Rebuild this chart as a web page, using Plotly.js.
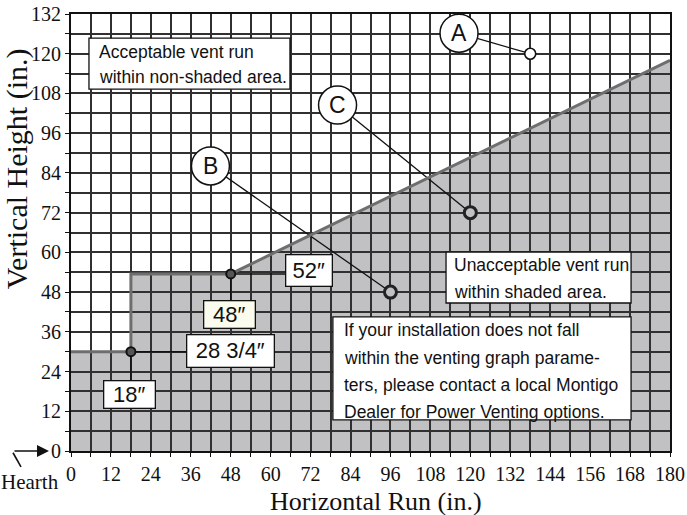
<!DOCTYPE html>
<html>
<head>
<meta charset="utf-8">
<script src="https://cdn.plot.ly/plotly-3.0.1.min.js"></script>
<style>html,body{margin:0;padding:0;background:#fff;}#chart{width:687px;height:515px;}</style>
</head>
<body>
<div id="chart"></div>
<script>
// ---- data ----
const boundaryX = [0, 18, 18, 48, 180];
const boundaryY = [30, 30, 53.5, 53.5, 118];
const pointNames = ['A', 'B', 'C'];
const pointX = [138, 96, 120];
const pointY = [120, 48, 72];
const cornerX = [18, 48];
const cornerY = [30, 53.5];
const dimLabels = ['18″', '28 3/4″', '48″', '52″'];
const xTickVals = [0, 12, 24, 36, 48, 60, 72, 84, 96, 108, 120, 132, 144, 156, 168, 180];
const yTickVals = [0, 12, 24, 36, 48, 60, 72, 84, 96, 108, 120, 132];
const gridStep = 6;
const noteAcceptable = ['Acceptable vent run', 'within non-shaded area.'];
const noteUnacceptable = ['Unacceptable vent run', 'within shaded area.'];
const noteContact = ['If your installation does not fall', 'within the venting graph parame-', 'ters, please contact a local Montigo', 'Dealer for Power Venting options.'];

const SHADE = '#c1c1c3';
const SANS = 'Liberation Sans, Arial, sans-serif';
const SERIF = 'Liberation Serif, Times New Roman, serif';

function gridTicks(labelled) {
  const vals = [], text = [];
  const max = labelled[labelled.length - 1];
  for (let v = 0; v <= max; v += gridStep) {
    vals.push(v);
    text.push(labelled.indexOf(v) >= 0 ? String(v) : '');
  }
  return {vals, text};
}
const xt = gridTicks(xTickVals);
const yt = gridTicks(yTickVals);

let path = 'M ' + boundaryX[0] + ',0';
for (let i = 0; i < boundaryX.length; i++) path += ' L ' + boundaryX[i] + ',' + boundaryY[i];
path += ' L ' + boundaryX[boundaryX.length - 1] + ',0 Z';

const traces = [
  {x: boundaryX, y: boundaryY, mode: 'lines', line: {color: '#6e6e6e', width: 3}, hoverinfo: 'skip'},
  {x: [pointX[0]], y: [pointY[0]], mode: 'markers',
   marker: {symbol: 'circle', size: 11, color: '#ffffff', line: {color: '#111', width: 1.6}}},
  {x: pointX.slice(1), y: pointY.slice(1), mode: 'markers',
   marker: {symbol: 'circle', size: 12, color: SHADE, line: {color: '#222', width: 3}}},
  {x: cornerX, y: cornerY, mode: 'markers',
   marker: {symbol: 'circle', size: 9, color: '#555', line: {color: '#111', width: 2}}}
];

const labelPos = [[116.6, 126.2], [41.9, 86.1], [80.1, 104.5]];

const shapes = [
  {type: 'path', path: path, xref: 'x', yref: 'y', layer: 'below', fillcolor: SHADE, line: {width: 0}}
];
for (let i = 0; i < pointNames.length; i++) {
  shapes.push({type: 'line', xref: 'x', yref: 'y', layer: 'between',
    x0: labelPos[i][0], y0: labelPos[i][1], x1: pointX[i], y1: pointY[i],
    line: {color: '#111', width: 1.3}});
}
shapes.push({type: 'line', xref: 'x', yref: 'y', layer: 'between', x0: cornerX[0], y0: cornerY[0], x1: cornerX[0], y1: 21.4, line: {color: '#111', width: 1.5}});
shapes.push({type: 'line', xref: 'x', yref: 'y', layer: 'between', x0: cornerX[0], y0: cornerY[0], x1: 34.8, y1: cornerY[0], line: {color: '#111', width: 1.5}});
shapes.push({type: 'line', xref: 'x', yref: 'y', layer: 'between', x0: cornerX[1], y0: cornerY[1], x1: cornerX[1], y1: 45.3, line: {color: '#111', width: 1.5}});
shapes.push({type: 'line', xref: 'x', yref: 'y', layer: 'between', x0: cornerX[1], y0: cornerY[1], x1: 64.6, y1: cornerY[1], line: {color: '#111', width: 1.5}});
const boxes = [[5.4, 109.3, 65.8, 124.7], [112.7, 44.7, 168.3, 60.1], [78.7, 9.4, 168.3, 40.5]];
boxes.forEach(b => shapes.push({type: 'rect', xref: 'x', yref: 'y', x0: b[0], y0: b[1], x1: b[2], y1: b[3],
  fillcolor: '#ffffff', line: {color: '#111', width: 1.3}}));
for (let i = 0; i < pointNames.length; i++) {
  shapes.push({type: 'circle', xref: 'x', yref: 'y', xsizemode: 'pixel', ysizemode: 'pixel',
    xanchor: labelPos[i][0], yanchor: labelPos[i][1], x0: -19, x1: 19, y0: -19, y1: 19,
    fillcolor: '#ffffff', line: {color: '#111', width: 1.5}});
}
shapes.push({type: 'line', xref: 'paper', yref: 'paper', x0: -0.0968, y0: -0.004, x1: -0.0835, y1: -0.0362,
  line: {color: '#111', width: 1.6}});

const annotations = [];
for (let i = 0; i < pointNames.length; i++) {
  annotations.push({x: labelPos[i][0], y: labelPos[i][1], xref: 'x', yref: 'y', text: pointNames[i],
    showarrow: false, font: {family: SANS, size: 23, color: '#111'}});
}
const dimPos = [[17.5, 17.2, 50, 26], [47.9, 30.2, 86, 31], [47.5, 41.1, 50, 26], [71.6, 54.4, 45, 30]];
const dimFill = ['#ffffff', '#ffffff', '#fbfbee', '#ffffff'];
for (let i = 0; i < dimLabels.length; i++) {
  annotations.push({x: dimPos[i][0], y: dimPos[i][1], xref: 'x', yref: 'y', text: dimLabels[i],
    showarrow: false, width: dimPos[i][2], height: dimPos[i][3], borderpad: 0,
    bgcolor: dimFill[i], bordercolor: '#111', borderwidth: 1.3,
    font: {family: SANS, size: 22, color: '#111'}});
}
function addLines(lines, x, ys) {
  lines.forEach((t, i) => annotations.push({x: x, y: ys[i], xref: 'x', yref: 'y', text: t,
    showarrow: false, xanchor: 'left', yanchor: 'middle', font: {family: SANS, size: 17.5, color: '#111'}}));
}
addLines(noteAcceptable, 7.7, [120.6, 113.0]);
addLines(noteUnacceptable, 114.6, [56.2, 48.1]);
addLines(noteContact, 81.5, [36.5, 28.1, 19.9, 11.8]);

annotations.push({xref: 'paper', yref: 'paper', x: -0.090, y: 0.645, text: 'Vertical Height (in.)', textangle: -90,
  showarrow: false, xanchor: 'center', yanchor: 'middle', font: {family: SERIF, size: 30, color: '#111'}});
annotations.push({xref: 'paper', yref: 'paper', x: 0.510, y: -0.116, text: 'Horizontal Run (in.)',
  showarrow: false, xanchor: 'center', yanchor: 'middle', font: {family: SERIF, size: 26, color: '#111'}});
annotations.push({xref: 'paper', yref: 'paper', x: -0.068, y: -0.071, text: 'Hearth',
  showarrow: false, xanchor: 'center', yanchor: 'middle', font: {family: SERIF, size: 21, color: '#111'}});
annotations.push({xref: 'paper', yref: 'paper', x: -0.0367, y: 0, text: '', showarrow: true,
  ax: -36, ay: 0, arrowhead: 2, arrowsize: 1.5, arrowwidth: 1.6, arrowcolor: '#111'});

const gridCol = '#303030';
const axisCommon = {
  showline: true, linecolor: '#111', linewidth: 2, mirror: true,
  showgrid: true, gridcolor: gridCol, gridwidth: 2, zeroline: false,
  ticks: 'outside', ticklen: 4, tickcolor: '#111', tickwidth: 1,
  tickfont: {family: SERIF, size: 20, color: '#111'},
  tickmode: 'array'
};

const layout = {
  width: 687, height: 515,
  margin: {l: 71, r: 17, t: 14, b: 64},
  paper_bgcolor: '#ffffff', plot_bgcolor: '#ffffff',
  showlegend: false,
  xaxis: Object.assign({}, axisCommon, {range: [0, 180], tickvals: xt.vals, ticktext: xt.text}),
  yaxis: Object.assign({}, axisCommon, {range: [0, 132], tickvals: yt.vals, ticktext: yt.text}),
  shapes: shapes,
  annotations: annotations
};

Plotly.newPlot('chart', traces, layout, {displayModeBar: false});
</script>
</body>
</html>
